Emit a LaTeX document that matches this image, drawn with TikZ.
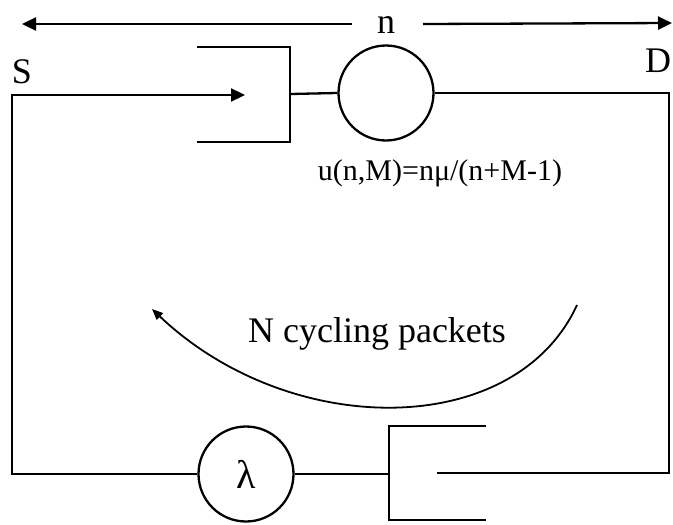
\documentclass[tikz,border=0pt]{standalone}
\usepackage{fontspec}
\setmainfont{Liberation Serif}
\usetikzlibrary{arrows.meta}
\begin{document}
\begin{tikzpicture}[x=1pt,y=-1pt, line width=2.3pt,
  server/.style={draw, circle, minimum size=95pt, inner sep=0pt},
  lbl/.style={font=\fontsize{36}{40}\selectfont, inner sep=0pt},
  tipped/.style={-{Triangle[length=14pt,width=13pt]}}]
\useasboundingbox (0,0) rectangle (673,525);
% top double arrow with label n
\node[lbl] (n) at (386,25) {n};
\coordinate (nl) at (352,24);
\coordinate (nr) at (423,24);
\coordinate (tl) at (22,24);
\coordinate (tr) at (672,23);
\draw[tipped] (nl) -- (tl);
\draw[tipped] (nr) -- (tr);
% labels S and D
\node[lbl] (S) at (22,72) {S};
\node[lbl] (D) at (658,61) {D};
% upper queue
\coordinate (q1a) at (197,47);
\coordinate (q1b) at (290,47);
\coordinate (q1c) at (290,142);
\coordinate (q1d) at (197,142);
\coordinate (q1out) at (290,94);
\coordinate (q1tip) at (245,95);
\draw (q1a) -- (q1b) -- (q1c) -- (q1d);
% upper server
\node[server] (mu) at (386,93) {};
\draw (q1out) -- (mu.west);
% right side
\coordinate (rt) at (669,93);
\coordinate (rb) at (669,473);
\coordinate (q2in) at (437,473);
\draw (mu.east) -- (rt) -- (rb) -- (q2in);
% lower queue
\coordinate (q2a) at (486,426);
\coordinate (q2b) at (389,426);
\coordinate (q2c) at (389,520);
\coordinate (q2d) at (486,520);
\coordinate (q2out) at (389,474);
\draw (q2a) -- (q2b) -- (q2c) -- (q2d);
% lambda server
\node[server, font=\fontsize{40}{44}\selectfont] (lam) at (246,474) {λ};
\draw (q2out) -- (lam.east);
% left side back to upper queue
\coordinate (lb) at (12,474);
\coordinate (lt) at (12,95);
\draw[tipped] (lam.west) -- (lb) -- (lt) -- (q1tip);
% formula
\node[font=\fontsize{30}{34}\selectfont, inner sep=0pt, anchor=base] (form) at (440,180) {u(n,M)=nμ/(n+M-1)};
% cycling arc
\coordinate (a1) at (577,305);
\coordinate (a2) at (152,309);
\draw[line width=1.8pt, -{Triangle[length=11pt,width=9pt]}] (a1) .. controls (515,440) and (290,440) .. (a2);
\node[font=\fontsize{36}{40}\selectfont, inner sep=0pt, anchor=base] (cyc) at (377,342) {N cycling packets};
\end{tikzpicture}
\end{document}
